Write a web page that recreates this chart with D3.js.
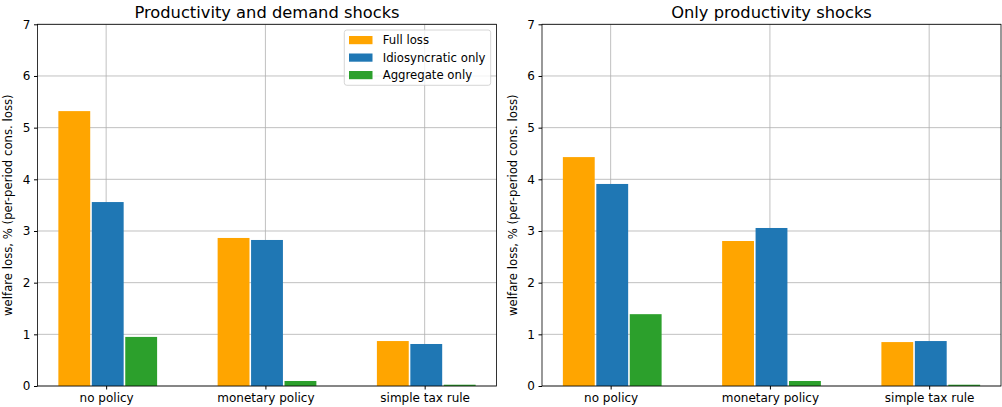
<!DOCTYPE html>
<html><head><meta charset="utf-8">
<script src="https://cdn.jsdelivr.net/npm/d3@7"></script>
<style>body{margin:0;background:#fff}svg{display:block;font-family:"DejaVu Sans",sans-serif}</style>
</head><body><svg id="c" width="1002" height="407"></svg>
<script>
const categories = ["no policy", "monetary policy", "simple tax rule"];
const seriesNames = ["Full loss", "Idiosyncratic only", "Aggregate only"];
const colors = ["#ffa500", "#1f77b4", "#2ca02c"];
const offsets = [-0.2, 0.01, 0.22];
const barWidth = 0.2;
const yTicks = [0, 1, 2, 3, 4, 5, 6, 7];
const titles = ["Productivity and demand shocks", "Only productivity shocks"];
const leftFull = [5.32, 2.865, 0.87];
const leftIdio = [3.56, 2.826, 0.813];
const leftAgg = [0.95, 0.097, 0.025];
const rightFull = [4.43, 2.806, 0.85];
const rightIdio = [3.91, 3.058, 0.87];
const rightAgg = [1.39, 0.097, 0.025];
const panels = [[leftFull, leftIdio, leftAgg], [rightFull, rightIdio, rightAgg]];

const svg = d3.select("#c");
const pos = [[37.5, 496.5], [542, 1001]];
const plotTop = 24.3, plotBottom = 386;
const y = d3.scaleLinear().domain([0, 7]).range([plotBottom, plotTop]);

panels.forEach((series, pi) => {
  const x = d3.scaleLinear().domain([-0.431, 2.451]).range(pos[pi]);
  const g = svg.append("g");
  g.selectAll(".gy").data(yTicks).join("line")
    .attr("x1", pos[pi][0]).attr("x2", pos[pi][1])
    .attr("y1", d => y(d)).attr("y2", d => y(d))
    .attr("stroke", "#b0b0b0").attr("stroke-width", 0.8);
  g.selectAll(".gx").data(categories).join("line")
    .attr("x1", (d, i) => x(i)).attr("x2", (d, i) => x(i))
    .attr("y1", plotTop).attr("y2", plotBottom)
    .attr("stroke", "#b0b0b0").attr("stroke-width", 0.8);
  series.forEach((vals, si) => {
    g.selectAll(".b" + si).data(vals).join("rect")
      .attr("class", "b" + si)
      .attr("x", (d, i) => x(i + offsets[si] - barWidth / 2))
      .attr("width", x(barWidth) - x(0))
      .attr("y", d => y(d)).attr("height", d => y(0) - y(d))
      .attr("fill", colors[si]);
  });
  g.append("rect").attr("x", pos[pi][0]).attr("y", plotTop)
    .attr("width", pos[pi][1] - pos[pi][0]).attr("height", plotBottom - plotTop)
    .attr("fill", "none").attr("stroke", "#000").attr("stroke-width", 0.8);
  const ya = d3.axisLeft(y).tickValues(yTicks).tickFormat(d3.format("d")).tickSizeOuter(0).tickSize(3.5).tickPadding(3.5);
  const yg = svg.append("g").attr("transform", `translate(${pos[pi][0]},0)`).call(ya);
  yg.select(".domain").remove();
  yg.selectAll("text").attr("font-size", 12).attr("fill", "#000").attr("font-family", "DejaVu Sans");
  const xa = d3.axisBottom(x).tickValues([0, 1, 2]).tickFormat(i => categories[i]).tickSizeOuter(0).tickSize(3.5).tickPadding(3.5);
  const xg = svg.append("g").attr("transform", `translate(0,${plotBottom})`).call(xa);
  xg.select(".domain").remove();
  xg.selectAll("text").attr("font-size", 12).attr("fill", "#000").attr("font-family", "DejaVu Sans");
  svg.append("text").attr("x", (pos[pi][0] + pos[pi][1]) / 2).attr("y", 18)
    .attr("text-anchor", "middle").attr("font-size", 16.3).text(titles[pi]);
  svg.append("text").attr("transform", `translate(${pos[pi][0] - 25.5},${(plotTop + plotBottom) / 2}) rotate(-90)`)
    .attr("text-anchor", "middle").attr("font-size", 11.7).text("welfare loss, % (per-period cons. loss)");
});

const lg = svg.append("g").attr("transform", "translate(344.3,30)");
lg.append("rect").attr("width", 146.4).attr("height", 55.3).attr("rx", 2.5)
  .attr("fill", "#fff").attr("fill-opacity", 0.8).attr("stroke", "#cccccc").attr("stroke-width", 0.8);
seriesNames.forEach((n, i) => {
  lg.append("rect").attr("x", 4.7).attr("y", 6 + i * 17.5).attr("width", 23.5).attr("height", 8.2).attr("fill", colors[i]);
  lg.append("text").attr("x", 38.4).attr("y", 14.3 + i * 17.5).attr("font-size", 11.7).text(n);
});
</script></body></html>
